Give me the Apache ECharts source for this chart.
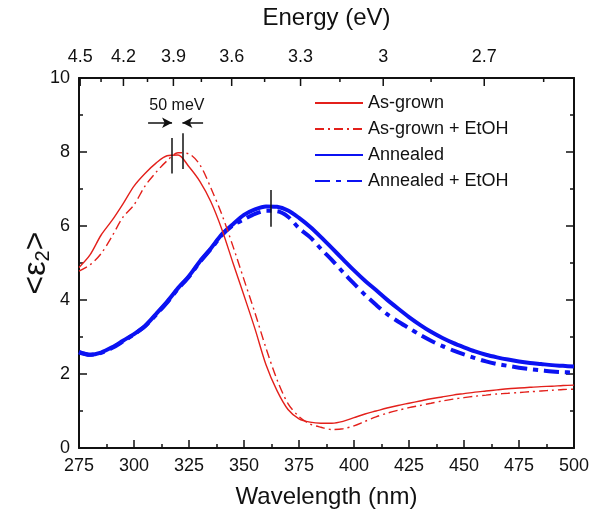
<!DOCTYPE html>
<html>
<head>
<meta charset="utf-8">
<script src="https://cdn.jsdelivr.net/npm/echarts@6/dist/echarts.min.js"></script>
<style>
  html, body { margin: 0; padding: 0; background: #fff; }
  #chart { width: 592px; height: 516px; }
</style>
</head>
<body>
<div id="chart"></div>
<script>
// wavelength grid (nm) shared by all four spectra
const wavelengths = [275, 280, 285, 290, 295, 300, 305, 310, 315, 320, 325, 330, 335, 340, 345, 350,
  355, 360, 365, 370, 375, 380, 385, 390, 395, 400, 405, 410, 415, 420, 425, 430, 435, 440, 445,
  450, 455, 460, 465, 470, 475, 480, 485, 490, 495, 500];

const asGrown = [4.88, 5.22, 5.75, 6.15, 6.60, 7.08, 7.42, 7.70, 7.90, 7.92, 7.60, 7.20, 6.65, 5.90, 5.00, 4.12,
  3.22, 2.25, 1.55, 1.04, 0.79, 0.70, 0.67, 0.67, 0.72, 0.82, 0.92, 1.00, 1.08, 1.15, 1.21, 1.27, 1.33, 1.38, 1.43,
  1.47, 1.51, 1.54, 1.57, 1.60, 1.62, 1.64, 1.66, 1.67, 1.69, 1.70];

const asGrownEtOH = [4.78, 4.95, 5.25, 5.72, 6.24, 6.57, 7.08, 7.45, 7.76, 7.98, 7.95, 7.65, 7.02, 6.30, 5.45, 4.55,
  3.65, 2.70, 1.85, 1.20, 0.85, 0.65, 0.56, 0.50, 0.52, 0.60, 0.72, 0.84, 0.94, 1.02, 1.09, 1.15, 1.21, 1.27, 1.32,
  1.36, 1.40, 1.43, 1.46, 1.48, 1.50, 1.52, 1.54, 1.56, 1.58, 1.59];

const annealed = [2.60, 2.52, 2.58, 2.72, 2.90, 3.08, 3.30, 3.62, 3.95, 4.32, 4.65, 5.05, 5.40, 5.78, 6.05, 6.30,
  6.45, 6.53, 6.52, 6.42, 6.22, 5.98, 5.70, 5.40, 5.10, 4.80, 4.52, 4.27, 4.01, 3.77, 3.54, 3.33, 3.14, 2.98, 2.84,
  2.72, 2.61, 2.52, 2.45, 2.39, 2.34, 2.30, 2.27, 2.24, 2.22, 2.20];

const annealedEtOH = [2.58, 2.52, 2.57, 2.70, 2.88, 3.07, 3.29, 3.60, 3.93, 4.30, 4.63, 5.03, 5.38, 5.75, 6.02, 6.18,
  6.33, 6.41, 6.40, 6.25, 5.94, 5.70, 5.38, 5.08, 4.75, 4.44, 4.14, 3.87, 3.62, 3.42, 3.24, 3.06, 2.90, 2.76, 2.64,
  2.53, 2.43, 2.34, 2.27, 2.22, 2.17, 2.13, 2.10, 2.07, 2.05, 2.04];

// top axis: photon energy (eV), majors labelled
const energyMajor = [4.5, 4.2, 3.9, 3.6, 3.3, 3.0, 2.7];
const energyMinor = [4.35, 4.05, 3.75, 3.45, 3.15, 2.85, 2.55];

// peak markers: [wavelength, from, to]
const peakMarks = [[317.1, 7.42, 8.38], [322.0, 7.54, 8.51], [362.1, 5.98, 6.97]];
const shiftArrows = [[306.4, 317.3, 8.79], [331.4, 322.0, 8.79]];
const shiftLabel = [319.5, 9.25, '50 meV'];

const RED = '#e3201b';
const BLUE = '#0b12f2';
const FONT = 'Arial, "Liberation Sans", sans-serif';
const HC = 1239.84;

const pairs = (ys) => wavelengths.map((w, i) => [w, ys[i]]);

const topTicks = energyMajor.map((e) => [HC / e, e, 1])
  .concat(energyMinor.map((e) => [HC / e, e, 0]));

const chart = echarts.init(document.getElementById('chart'), null, { renderer: 'canvas' });

const axisBase = {
  axisLine: { show: true, onZero: false, lineStyle: { color: '#111', width: 2 } },
  axisTick: { show: true, inside: true, length: 8, lineStyle: { color: '#111', width: 1.5 } },
  minorTick: { show: true, splitNumber: 2, length: 4, lineStyle: { color: '#111', width: 1.5 } },
  splitLine: { show: false },
  minorSplitLine: { show: false },
};

chart.setOption({
  animation: false,
  backgroundColor: '#fff',
  textStyle: { fontFamily: FONT },
  grid: { left: 79, right: 18, top: 78, bottom: 68, containLabel: false, outerBoundsMode: 'none' },
  legend: {
    data: ['As-grown', 'As-grown + EtOH', 'Annealed', 'Annealed + EtOH'],
    orient: 'vertical',
    left: 314,
    top: 94,
    padding: 0,
    itemWidth: 48,
    itemHeight: 14,
    itemGap: 8,
    itemStyle: { opacity: 0 },
    textStyle: { fontSize: 18, color: '#111', fontFamily: FONT },
  },
  xAxis: [
    {
      type: 'value',
      min: 275,
      max: 500,
      interval: 25,
      ...axisBase,
      axisLabel: { fontSize: 18, color: '#111', margin: 9, fontFamily: FONT },
      name: 'Wavelength (nm)',
      nameLocation: 'middle',
      nameGap: 37,
      nameMoveOverlap: false,
      nameTextStyle: { fontSize: 24, color: '#111', fontFamily: FONT },
    },
    {
      type: 'value',
      position: 'top',
      min: 275,
      max: 500,
      axisLine: { show: true, onZero: false, lineStyle: { color: '#111', width: 2 } },
      axisTick: { show: false },
      axisLabel: { show: false },
      splitLine: { show: false },
      name: 'Energy (eV)',
      nameLocation: 'middle',
      nameGap: 48,
      nameMoveOverlap: false,
      nameTextStyle: { fontSize: 24, color: '#111', fontFamily: FONT },
    },
  ],
  yAxis: [
    {
      type: 'value',
      min: 0,
      max: 10,
      interval: 2,
      ...axisBase,
      axisLabel: { fontSize: 18, color: '#111', margin: 9, fontFamily: FONT },
      name: '<ε{s|2}>',
      nameLocation: 'middle',
      nameRotate: 90,
      nameGap: 26,
      nameMoveOverlap: false,
      nameTextStyle: {
        fontSize: 32, color: '#111', fontFamily: FONT,
        rich: { s: { fontSize: 20, color: '#111', fontFamily: FONT, verticalAlign: 'bottom', padding: [14, 0, 0, 0] } },
      },
    },
    {
      type: 'value',
      position: 'right',
      min: 0,
      max: 10,
      interval: 2,
      ...axisBase,
      axisLabel: { show: false },
    },
  ],
  series: [
    {
      name: 'Annealed',
      type: 'line',
      symbol: 'none',
      smooth: 0.3,
      lineStyle: { color: BLUE, width: 4 },
      itemStyle: { color: BLUE },
      data: pairs(annealed),
      markLine: {
        silent: true,
        symbol: 'none',
        label: { show: false },
        lineStyle: { color: '#111', width: 1.5, type: 'solid' },
        data: [[{ coord: [peakMarks[2][0], peakMarks[2][1]] }, { coord: [peakMarks[2][0], peakMarks[2][2]] }]],
      },
    },
    {
      name: 'Annealed + EtOH',
      type: 'line',
      symbol: 'none',
      smooth: 0.3,
      lineStyle: { color: BLUE, width: 4, type: [15, 6, 5, 6] },
      itemStyle: { color: BLUE },
      data: pairs(annealedEtOH),
    },
    {
      name: 'As-grown',
      type: 'line',
      symbol: 'none',
      smooth: 0.3,
      lineStyle: { color: RED, width: 1.4 },
      itemStyle: { color: RED },
      data: pairs(asGrown),
      markLine: {
        silent: true,
        symbol: 'none',
        label: { show: false },
        lineStyle: { color: '#111', width: 1.5, type: 'solid' },
        data: peakMarks.slice(0, 2).map((m) => [{ coord: [m[0], m[1]] }, { coord: [m[0], m[2]] }])
          .concat(shiftArrows.map((a) => [
            { coord: [a[0], a[2]], symbol: 'none' },
            { coord: [a[1], a[2]], symbol: 'arrow', symbolSize: [8, 10] },
          ])),
      },
      markPoint: {
        silent: true,
        symbol: 'rect',
        symbolSize: 0,
        label: { show: true, formatter: shiftLabel[2], fontSize: 16, color: '#111', fontFamily: FONT },
        data: [{ coord: [shiftLabel[0], shiftLabel[1]] }],
      },
    },
    {
      name: 'As-grown + EtOH',
      type: 'line',
      symbol: 'none',
      smooth: 0.3,
      lineStyle: { color: RED, width: 1.4, type: [9, 4, 2, 4] },
      itemStyle: { color: RED },
      data: pairs(asGrownEtOH),
    },
    {
      name: 'energyTicks',
      type: 'custom',
      xAxisIndex: 1,
      yAxisIndex: 0,
      clip: false,
      silent: true,
      data: topTicks,
      renderItem: (params, api) => {
        const p = api.coord([api.value(0), 10]);
        const major = api.value(2) === 1;
        const kids = [{
          type: 'line',
          shape: { x1: p[0], y1: p[1], x2: p[0], y2: p[1] + (major ? 8 : 4) },
          style: { stroke: '#111', lineWidth: 1.5 },
        }];
        if (major) {
          kids.push({
            type: 'text',
            x: p[0],
            y: p[1] - 21,
            style: { text: String(api.value(1)), fontSize: 18, fontFamily: FONT, fill: '#111', align: 'center', verticalAlign: 'middle' },
          });
        }
        return { type: 'group', children: kids };
      },
    },
  ],
});
</script>
</body>
</html>
